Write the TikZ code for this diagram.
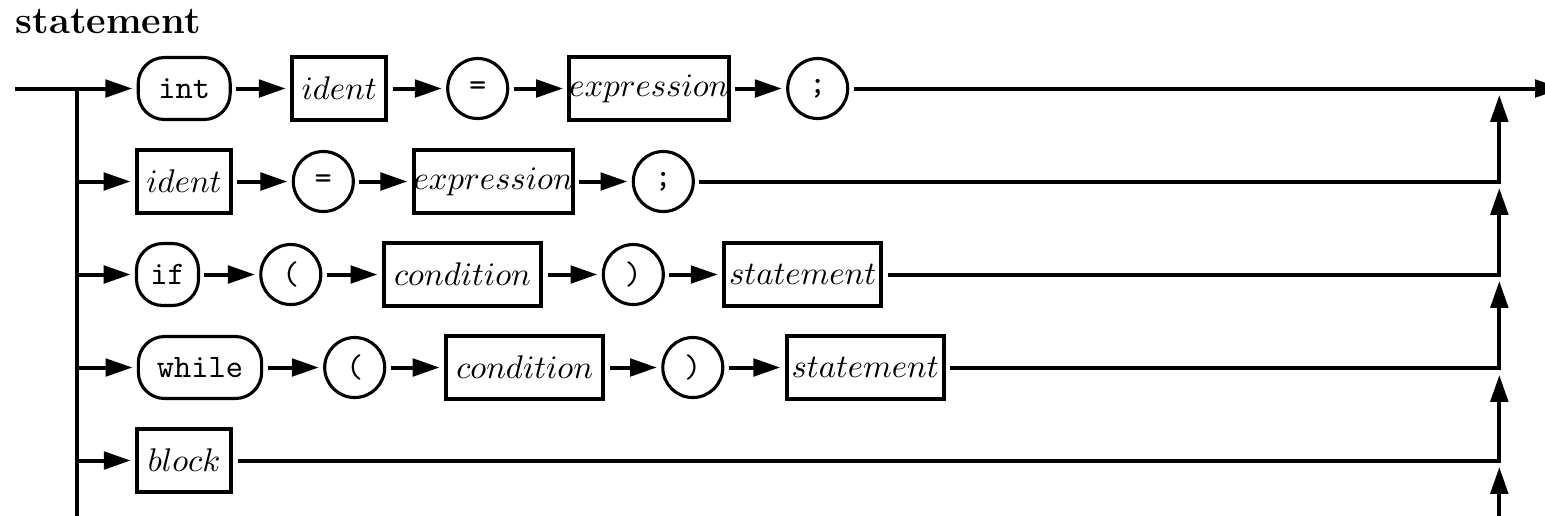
\documentclass[tikz,border=0pt]{standalone}
\usepackage{fontspec}
\usetikzlibrary{arrows.meta}
\begin{document}
\begin{tikzpicture}[x=0.3049pt,y=-0.3049pt,
  conn/.style={line width=1.22pt},
  flow/.style={conn,-{Triangle[length=8.2pt,width=5.3pt]}},
  nt/.style={draw,rectangle,line width=1.22pt,inner sep=0pt,
    minimum height=19.1pt,minimum width=28.7pt,outer sep=1.95pt},
  tm/.style={draw,circle,line width=0.95pt,inner sep=0pt,
    minimum size=18.3pt,outer sep=1.8pt,font=\ttfamily},
  kw/.style={draw,rectangle,rounded corners=8pt,line width=0.95pt,
    inner sep=0pt,minimum height=18.9pt,outer sep=1.8pt,font=\ttfamily},
]
\useasboundingbox (0,0) rectangle (1545,515);
\clip (0,0) rectangle (1545,515);

\node[anchor=base west,inner sep=0pt,
  font=\fontsize{11.6}{14}\selectfont\bfseries] (title) at (15,33) {statement};

% entry and branch points on the left
\coordinate (in)    at (15,88.5);
\coordinate (split) at (77,88.5);
\coordinate (b2)    at (77,181.5);
\coordinate (b3)    at (77,274.5);
\coordinate (b4)    at (77,367.5);
\coordinate (b5)    at (77,460.5);
\coordinate (bl)    at (77,530);

% collector on the right
\coordinate (out)   at (1562,88.5);
\coordinate (j2)    at (1499.3,181.5);
\coordinate (j3)    at (1499.3,274.5);
\coordinate (j4)    at (1499.3,367.5);
\coordinate (j5)    at (1499.3,460.5);
\coordinate (u2)    at (1499.3,95);
\coordinate (u3)    at (1499.3,188);
\coordinate (u4)    at (1499.3,281);
\coordinate (u5)    at (1499.3,375);
\coordinate (u6)    at (1499.3,467);
\coordinate (br)    at (1499.3,530);

% row 1: int ident = expression ;
\node[kw,minimum width=28.05pt] (int1) at (184.2,88.5) {int};
\node[nt] (id1)  at (339.2,88.5) {$ident$};
\node[tm] (eq1)  at (477.7,88.5) {=};
\node[nt,minimum width=47.6pt] (ex1) at (649,88.5) {$expression$};
\node[tm] (sc1)  at (817.7,88.5) {;};

% row 2: ident = expression ;
\node[nt] (id2)  at (184,181.5) {$ident$};
\node[tm] (eq2)  at (323.3,181.5) {=};
\node[nt,minimum width=47.6pt] (ex2) at (493.3,181.5) {$expression$};
\node[tm] (sc2)  at (663.3,181.5) {;};

% row 3: if ( condition ) statement
\node[kw,minimum width=18.9pt] (if3) at (167.5,274.5) {if};
\node[tm] (lp3)  at (290.8,274.5) {(};
\node[nt,minimum width=48pt] (cd3) at (462.5,274.5) {$condition$};
\node[tm] (rp3)  at (633.3,274.5) {)};
\node[nt,minimum width=47.9pt] (st3) at (802.7,274.5) {$statement$};

% row 4: while ( condition ) statement
\node[kw,minimum width=37.6pt] (wh4) at (200,367.5) {while};
\node[tm] (lp4)  at (354.7,367.5) {(};
\node[nt,minimum width=48pt] (cd4) at (524.7,367.5) {$condition$};
\node[tm] (rp4)  at (692.8,367.5) {)};
\node[nt,minimum width=47.9pt] (st4) at (865.2,367.5) {$statement$};

% row 5: block
\node[nt] (bk5)  at (184.2,460.5) {$block$};

% left spine
\draw[conn] (in) -- (split) -- (bl);

% row 1 connectors
\draw[flow] (split) -- (int1);
\draw[flow] (int1) -- (id1);
\draw[flow] (id1) -- (eq1);
\draw[flow] (eq1) -- (ex1);
\draw[flow] (ex1) -- (sc1);
\draw[flow] (sc1) -- (out);

% row 2 connectors
\draw[flow] (b2) -- (id2);
\draw[flow] (id2) -- (eq2);
\draw[flow] (eq2) -- (ex2);
\draw[flow] (ex2) -- (sc2);
\draw[flow] (sc2) -- (j2) -- (u2);

% row 3 connectors
\draw[flow] (b3) -- (if3);
\draw[flow] (if3) -- (lp3);
\draw[flow] (lp3) -- (cd3);
\draw[flow] (cd3) -- (rp3);
\draw[flow] (rp3) -- (st3);
\draw[flow] (st3) -- (j3) -- (u3);

% row 4 connectors
\draw[flow] (b4) -- (wh4);
\draw[flow] (wh4) -- (lp4);
\draw[flow] (lp4) -- (cd4);
\draw[flow] (cd4) -- (rp4);
\draw[flow] (rp4) -- (st4);
\draw[flow] (st4) -- (j4) -- (u4);

% row 5 connectors
\draw[flow] (b5) -- (bk5);
\draw[flow] (bk5) -- (j5) -- (u5);

% continuation from below
\draw[flow] (br) -- (u6);
\end{tikzpicture}
\end{document}
